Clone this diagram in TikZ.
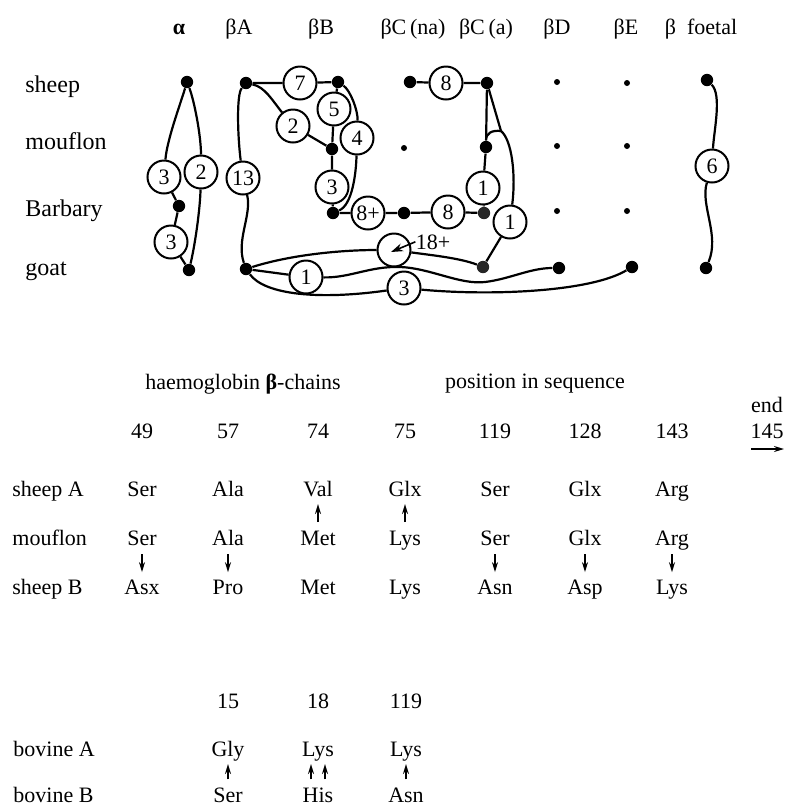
\documentclass[tikz,border=0pt]{standalone}
\usepackage{fontspec}
\setmainfont{Liberation Serif}
\usetikzlibrary{arrows.meta}
\begin{document}
\begin{tikzpicture}[x=0.5pt,y=-0.5pt,
  txt/.style={font=\fontsize{11}{13}\selectfont,inner sep=0pt,anchor=base},
  rowlbl/.style={txt,anchor=base west},
  toplbl/.style={rowlbl,font=\fontsize{12}{14}\selectfont},
  bigdot/.style={circle,fill=black,inner sep=0pt,minimum size=6.2pt},
  greydot/.style={bigdot,fill=black!85},
  smalldot/.style={circle,fill=black,inner sep=0pt,minimum size=3pt},
  num/.style={circle,draw,line width=1pt,inner sep=0pt,minimum size=16.5pt,font=\fontsize{11}{13}\selectfont},
  edge/.style={line width=1.1pt},
  arr/.style={line width=0.8pt,-{Stealth[length=5pt,width=3pt]}},
]
\useasboundingbox (0,0) rectangle (785,805);

% ---------- column headers ----------
\node[txt] (hA)  at (179,34) {\textbf{α}};
\node[txt] (hbA) at (239,34) {βA};
\node[txt] (hbB) at (321,34) {βB};
\node[txt] (hCn) at (413,34) {βC\,(na)};
\node[txt] (hCa) at (486,34) {βC\,(a)};
\node[txt] (hD)  at (557,34) {βD};
\node[txt] (hE)  at (626,34) {βE};
\node[txt] (hF)  at (701,34) {β\ \ foetal};

% ---------- row labels ----------
\node[toplbl] (rS) at (25,92)  {sheep};
\node[toplbl] (rM) at (25,149) {mouflon};
\node[toplbl] (rB) at (25,216) {Barbary};
\node[toplbl] (rG) at (25,275) {goat};

% ---------- alpha ----------
\node[bigdot] (aS) at (187,82) {};
\node[num] (a3) at (164,177) {3};
\node[num] (a2) at (201,172) {2};
\node[bigdot] (aM) at (179,206) {};
\node[num] (a3b) at (171,242) {3};
\node[bigdot] (aG) at (189,270) {};
\draw[edge] (aS) .. controls (180,105) and (167,140) .. (a3);
\draw[edge] (aS) .. controls (194,100) and (201,135) .. (a2);
\draw[edge] (a3) -- (aM);
\draw[edge] (aM) -- (a3b);
\draw[edge] (a3b) -- (aG);
\draw[edge] (a2) .. controls (200,210) and (195,245) .. (aG);

% ---------- beta A / beta B ----------
\node[bigdot] (AS) at (246,83) {};
\node[num] (A13) at (243,178) {13};
\node[bigdot] (AG) at (246,269) {};
\node[num] (n7) at (300,83) {7};
\node[bigdot] (BS) at (338,82) {};
\node[num] (n2) at (293,126) {2};
\node[num] (n5) at (334,109) {5};
\node[num] (n4) at (357,138) {4};
\node[bigdot] (BM) at (332,149) {};
\node[num] (n3B) at (332,187) {3};
\node[bigdot] (BB) at (333,213) {};
\node[num] (n8p) at (368,213) {8+};

\draw[edge] (AS) .. controls (236,95) and (238,140) .. (A13);
\draw[edge] (A13) .. controls (252,215) and (236,240) .. (AG);
\draw[edge] (AS) -- (n7) -- (BS);
\draw[edge] (AS) .. controls (265,87) and (272,100) .. (n2);
\draw[edge] (n2) -- (BM);
\draw[edge] (BS) -- (n5) -- (BM);
\draw[edge] (BS) .. controls (350,90) and (358,110) .. (n4);
\draw[edge] (n4) .. controls (356,175) and (352,205) .. (BB);
\draw[edge] (BM) -- (n3B) -- (BB);

% ---------- beta C ----------
\node[bigdot] (CnS) at (410,82) {};
\node[num] (n8t) at (446,83) {8};
\node[bigdot] (CaS) at (487,83) {};
\node[smalldot] (CnM) at (404,148) {};
\node[bigdot] (CaM) at (486,147) {};
\node[num] (n1u) at (483,188) {1};
\node[bigdot] (CnB) at (404,213) {};
\node[num] (n8b) at (448,212) {8};
\node[greydot] (CaB) at (484,213) {};
\coordinate (J) at (501,131);
\node[num] (n1r) at (510,222) {1};
\node[greydot] (CaG) at (483,267) {};

\draw[edge] (BB) -- (n8p) -- (CnB) -- (n8b) -- (CaB);
\draw[edge] (CnS) -- (n8t) -- (CaS);
\draw[edge] (CaS) -- (CaM);
\draw[edge] (CaS) -- (J);
\draw[edge] (CaM) .. controls (486,133) and (492,130) .. (J);
\draw[edge] (J) .. controls (512,140) and (516,175) .. (n1r);
\draw[edge] (CaM) -- (n1u) -- (CaB);
\draw[edge] (n1r) -- (CaG);

% ---------- beta D / E ----------
\node[smalldot] (DS) at (557,82) {};
\node[smalldot] (DM) at (557,146) {};
\node[smalldot] (DB) at (557,211) {};
\node[bigdot] (DG) at (559,268) {};
\node[smalldot] (ES) at (627,83) {};
\node[smalldot] (EM) at (627,146) {};
\node[smalldot] (EB) at (627,211) {};
\node[bigdot] (EG) at (632,267) {};

% ---------- foetal ----------
\node[bigdot] (FS) at (707,80) {};
\node[num] (n6) at (712,166) {6};
\node[bigdot] (FG) at (706,268) {};
\draw[edge] (FS) .. controls (722,95) and (714,130) .. (n6);
\draw[edge] (n6) .. controls (700,205) and (720,235) .. (FG);

% ---------- goat row ----------
\node[num] (n18) at (394,250) {};
\node[num] (n1g) at (306,277) {1};
\node[num] (n3g) at (404,288) {3};
\node[txt] (l18) at (433,249) {18+};
\coordinate (t18) at (391,252);

\draw[edge] (AG) -- (n1g);
\draw[edge] (AG) .. controls (290,255) and (340,250) .. (n18);
\draw[edge] (AG) .. controls (265,295) and (320,300) .. (n3g);
\draw[edge] (n1g) .. controls (350,278) and (370,266) .. (400,267)
                  .. controls (430,268) and (460,285) .. (485,282)
                  .. controls (510,279) and (530,268) .. (DG);
\draw[edge] (n18) .. controls (430,255) and (460,258) .. (CaG);
\draw[edge] (n3g) .. controls (490,296) and (590,292) .. (EG);
\draw[line width=0.8pt,-{Stealth[length=6pt,width=4pt]}] (l18.west) -- (t18);

% ---------- table: haemoglobin beta-chains ----------
\node[txt] (tt1) at (243,389) {haemoglobin \textbf{β}-chains};
\node[txt] (tt2) at (535,388) {position in sequence};

\node[rowlbl] (lsa) at (12,496) {sheep A};
\node[rowlbl] (lmo) at (12,545) {mouflon};
\node[rowlbl] (lsb) at (12,594) {sheep B};

\foreach \c/\x/\a/\m/\b in {49/142/Ser/Ser/Asx, 57/228/Ala/Ala/Pro, 74/318/Val/Met/Met,
    75/405/Glx/Lys/Lys, 119/495/Ser/Ser/Asn, 128/585/Glx/Glx/Asp, 143/672/Arg/Arg/Lys}{
  \node[txt] (p\c) at (\x,438) {\c};
  \node[txt] (sa\c) at (\x,496) {\a};
  \node[txt] (mo\c) at (\x,545) {\m};
  \node[txt] (sb\c) at (\x,594) {\b};
}
\node[txt] (tend) at (767,412) {end};
\node[txt] (p145) at (767,438) {145};
\coordinate (e1) at (751,449);
\coordinate (e2) at (784,449);
\draw[arr] (e1) -- (e2);

\foreach \c in {74,75}{
  \draw[arr,shorten <=4pt,shorten >=4pt] (mo\c.north) -- (sa\c.base);
}
\foreach \c in {49,57,119,128,143}{
  \draw[arr,shorten <=4.5pt,shorten >=3.5pt] (mo\c.base) -- (sb\c.north);
}

% ---------- table: bovine ----------
\node[rowlbl] (lba) at (13,756) {bovine A};
\node[rowlbl] (lbb) at (13,802) {bovine B};
\foreach \c/\x/\a/\b in {15/228/Gly/Ser, 18/318/Lys/His, 119/406/Lys/Asn}{
  \node[txt] (q\c) at (\x,708) {\c};
  \node[txt] (ba\c) at (\x,756) {\a};
  \node[txt] (bb\c) at (\x,802) {\b};
}
\draw[arr,shorten <=3.8pt,shorten >=4pt] (bb15.north) -- (ba15.base);
\draw[arr,shorten <=3.8pt,shorten >=4pt] ([xshift=-3.5pt]bb18.north) -- ([xshift=-3.5pt]ba18.base);
\draw[arr,shorten <=3.8pt,shorten >=4pt] ([xshift=3.5pt]bb18.north) -- ([xshift=3.5pt]ba18.base);
\draw[arr,shorten <=3.8pt,shorten >=4pt] (bb119.north) -- (ba119.base);
\end{tikzpicture}
\end{document}
